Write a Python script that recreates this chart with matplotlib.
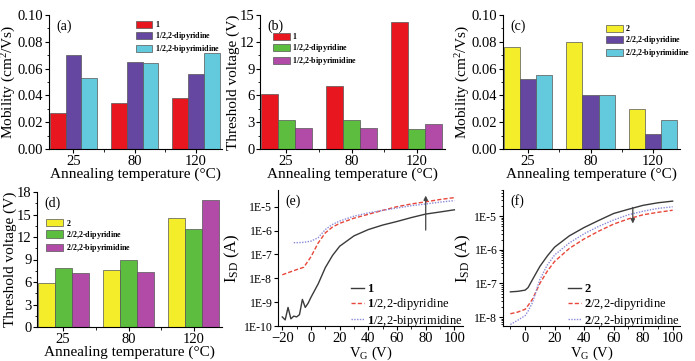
#!/usr/bin/env python3
import numpy as np
import matplotlib
matplotlib.use("Agg")
import matplotlib.pyplot as plt
from matplotlib.ticker import FixedLocator, FuncFormatter, MultipleLocator, LogLocator, NullFormatter

plt.rcParams["font.family"] = ["Liberation Serif", "DejaVu Serif"]
plt.rcParams["mathtext.fontset"] = "custom"
plt.rcParams["mathtext.rm"] = "Liberation Serif"
plt.rcParams["mathtext.it"] = "Liberation Serif:italic"
plt.rcParams["mathtext.bf"] = "Liberation Serif:bold"

temps = ["25", "80", "120"]

# (a) mobility, compound 1
mob1 = [0.027, 0.034, 0.038]
mob1_dipy = [0.070, 0.065, 0.056]
mob1_bipym = [0.053, 0.064, 0.072]
# (b) threshold voltage, compound 1
vth1 = [6.2, 7.0, 14.2]
vth1_dipy = [3.2, 3.3, 2.2]
vth1_bipym = [2.3, 2.3, 2.8]
# (c) mobility, compound 2
mob2 = [0.076, 0.080, 0.030]
mob2_dipy = [0.052, 0.040, 0.011]
mob2_bipym = [0.055, 0.040, 0.022]
# (d) threshold voltage, compound 2
vth2 = [5.9, 7.6, 14.5]
vth2_dipy = [7.9, 9.0, 13.1]
vth2_bipym = [7.2, 7.3, 16.9]

# (e) transfer curves, compound 1
e_vg_1 = [-20, -18, -16, -14, -12, -10, -8, -6, -4, -2, 0, 5, 10, 15, 20, 30, 40, 50, 60, 70, 80, 90, 100]
e_id_1 = [2.4e-10, 1.8e-10, 6e-10, 2e-10, 2.6e-10, 2.4e-10, 3e-10, 1.3e-9, 6e-10, 9e-10, 1.6e-9, 5.8e-9,
          2.8e-8, 9e-8, 2.2e-7, 6e-7, 1.1e-6, 1.7e-6, 2.4e-6, 3.5e-6, 4.9e-6, 6e-6, 7.4e-6]
e_vg_2 = [-20, -15, -10, -5, 0, 5, 10, 15, 20, 30, 40, 50, 60, 70, 80, 90, 100]
e_id_dipy = [1.4e-8, 1.8e-8, 2.3e-8, 2.9e-8, 8e-8, 3e-7, 8e-7, 1.4e-6, 2e-6, 3.3e-6, 4.8e-6, 7e-6, 1e-5,
             1.3e-5, 1.6e-5, 2e-5, 2.4e-5]
e_vg_3 = [-12, -10, -5, 0, 5, 10, 15, 20, 30, 40, 50, 60, 70, 80, 90, 100]
e_id_bipym = [3.1e-7, 3.1e-7, 3.2e-7, 3.6e-7, 5e-7, 1.1e-6, 1.8e-6, 2.5e-6, 4e-6, 5.5e-6, 7e-6, 8.8e-6,
              1.1e-5, 1.3e-5, 1.55e-5, 1.8e-5]

# (f) transfer curves, compound 2
f_vg = [-10, -5, 0, 2, 5, 10, 15, 20, 30, 40, 50, 60, 70, 80, 90, 100]
f_id_2 = [5.6e-8, 5.8e-8, 6.3e-8, 7.5e-8, 1.3e-7, 3.2e-7, 6.5e-7, 1.2e-6, 2.6e-6, 4.6e-6, 7.5e-6, 1.2e-5,
          1.6e-5, 2.1e-5, 2.5e-5, 2.8e-5]
f_id_dipy = [1.25e-8, 1.4e-8, 1.7e-8, 2.2e-8, 3.4e-8, 1e-7, 2.3e-7, 4.5e-7, 1.1e-6, 2.1e-6, 3.6e-6, 5.8e-6,
             8.3e-6, 1.1e-5, 1.3e-5, 1.5e-5]
f_id_bipym = [6e-9, 8e-9, 1.1e-8, 1.5e-8, 2.7e-8, 1.3e-7, 3.5e-7, 7e-7, 1.6e-6, 3e-6, 5e-6, 7.7e-6,
              1.1e-5, 1.4e-5, 1.7e-5, 1.9e-5]

RED = "#e8161e"
PURPLE = "#6546a0"
CYAN = "#62cadc"
YELLOW = "#f4ee2a"
GREEN = "#5dbd3e"
MAGENTA = "#b14ba7"

W, H = 695, 361


def px_axes(fig, left, right, top, bottom):
    return fig.add_axes([left / W, 1 - bottom / H, (right - left) / W, (bottom - top) / H])


def style_axes(ax):
    for s in ("top", "right"):
        ax.spines[s].set_visible(False)
    ax.tick_params(labelsize=10.5, length=3, width=0.8, pad=1)
    ax.tick_params(which="minor", length=1.8, width=0.6)


def bar_panel(ax, series, colors, labels, ylim, ystep, ylabel, tag, legend_anchor):
    x = np.arange(1, len(temps) + 1)
    bw = 0.26
    for i, (vals, c, lab) in enumerate(zip(series, colors, labels)):
        ax.bar(x + (i - 1) * bw, vals, bw, color=c, edgecolor="#555555", linewidth=0.5, label=lab)
    ax.set_xlim(0.6, 3.43)
    ax.set_ylim(*ylim)
    ax.set_xticks(x)
    ax.set_xticklabels(temps)
    ax.xaxis.set_minor_locator(FixedLocator([1.5, 2.5]))
    ax.yaxis.set_major_locator(MultipleLocator(ystep))
    ax.yaxis.set_minor_locator(MultipleLocator(ystep / 2))
    style_axes(ax)
    ax.set_xlabel("Annealing temperature (°C)", fontsize=11, labelpad=0)
    ax.set_ylabel(ylabel, fontsize=11, labelpad=0)
    ax.text(0.04, 0.97, tag, transform=ax.transAxes, fontsize=10, va="top")
    ax.legend(loc="upper left", bbox_to_anchor=legend_anchor, frameon=False,
              handlelength=2.1, handleheight=1.0, labelspacing=0.15, handletextpad=0.3,
              borderaxespad=0, borderpad=0, prop={"size": 5.8, "weight": "bold"})


fig = plt.figure(figsize=(W / 100, H / 100), dpi=100)

lab1 = [r"$\mathbf{1}$", r"$\mathbf{1}$/2,2-dipyridine", r"$\mathbf{1}$/2,2-bipyrimidine"]
lab2 = [r"$\mathbf{2}$", r"$\mathbf{2}$/2,2-dipyridine", r"$\mathbf{2}$/2,2-bipyrimidine"]

ax_a = px_axes(fig, 49, 222, 15, 149)
bar_panel(ax_a, [mob1, mob1_dipy, mob1_bipym], [RED, PURPLE, CYAN], lab1, (0, 0.10), 0.02,
          "Mobility (cm$^2$/Vs)", "(a)", (0.50, 0.97))
ax_a.yaxis.set_major_formatter(FuncFormatter(lambda v, p: f"{v:.2f}"))

ax_b = px_axes(fig, 260, 445, 15, 149)
bar_panel(ax_b, [vth1, vth1_dipy, vth1_bipym], [RED, GREEN, MAGENTA], lab1, (0, 15), 3,
          "Threshold voltage (V)", "(b)", (0.07, 0.88))

ax_c = px_axes(fig, 503, 680, 15, 149)
bar_panel(ax_c, [mob2, mob2_dipy, mob2_bipym], [YELLOW, PURPLE, CYAN], lab2, (0, 0.10), 0.02,
          "Mobility (cm$^2$/Vs)", "(c)", (0.58, 0.94))
ax_c.yaxis.set_major_formatter(FuncFormatter(lambda v, p: f"{v:.2f}"))

ax_d = px_axes(fig, 37, 222, 192, 327)
bar_panel(ax_d, [vth2, vth2_dipy, vth2_bipym], [YELLOW, GREEN, MAGENTA], lab2, (0, 18), 3,
          "Threshold voltage (V)", "(d)", (0.05, 0.81))


def log_fmt(v, p):
    return f"1E{int(round(np.log10(v)))}"


def curve_panel(ax, curves, xlim, ylim, yticks, xticks, tag, arrow_x, arrow_y0, arrow_y1):
    styles = [("-", "#3a3a3a", 1.0), ((0, (3, 1.5)), "#e8463a", 1.0), ((0, (1, 1)), "#8a8ad8", 1.0)]
    for (xs, ys, lab), (ls, c, lw) in zip(curves, styles):
        ax.plot(xs, ys, linestyle=ls, color=c, linewidth=lw, label=lab)
    ax.set_yscale("log")
    ax.set_xlim(*xlim)
    ax.set_ylim(*ylim)
    ax.set_xticks(xticks)
    ax.xaxis.set_minor_locator(MultipleLocator(10))
    ax.yaxis.set_major_locator(FixedLocator(yticks))
    ax.yaxis.set_major_formatter(FuncFormatter(log_fmt))
    ax.yaxis.set_minor_locator(LogLocator(base=10, subs=np.arange(2, 10)))
    ax.yaxis.set_minor_formatter(NullFormatter())
    style_axes(ax)
    ax.tick_params(axis="y", labelsize=8.5)
    ax.set_xlabel("V$_{\\rm G}$ (V)", fontsize=10.5, labelpad=0)
    ax.set_ylabel("I$_{\\rm SD}$ (A)", fontsize=12, labelpad=1)
    ax.text(0.04, 0.97, tag, transform=ax.transAxes, fontsize=10, va="top")
    ax.annotate("", xy=(arrow_x, arrow_y1), xytext=(arrow_x, arrow_y0),
                arrowprops=dict(arrowstyle="-|>", color="#444444", lw=0.9, mutation_scale=6))
    ax.legend(loc="lower right", bbox_to_anchor=(1.0, -0.02), frameon=False, fontsize=9,
              handlelength=1.0, labelspacing=0.05, handletextpad=0.3, borderaxespad=0, borderpad=0)


ax_e = px_axes(fig, 278, 463, 190, 326)
curve_panel(ax_e, [(e_vg_1, e_id_1, lab1[0]), (e_vg_2, e_id_dipy, lab1[1]), (e_vg_3, e_id_bipym, lab1[2])],
            (-23, 106), (1e-10, 5e-5), [1e-10, 1e-9, 1e-8, 1e-7, 1e-6, 1e-5],
            [-20, 0, 20, 40, 60, 80, 100], "(e)", 80, 8e-7, 3.8e-5)

ax_f = px_axes(fig, 503, 680, 190, 326)
curve_panel(ax_f, [(f_vg, f_id_2, lab2[0]), (f_vg, f_id_dipy, lab2[1]), (f_vg, f_id_bipym, lab2[2])],
            (-15, 105), (5.4e-9, 6e-5), [1e-8, 1e-7, 1e-6, 1e-5],
            [0, 20, 40, 60, 80, 100], "(f)", 73, 2.2e-5, 5e-6)

fig.savefig("out.png", dpi=100)
